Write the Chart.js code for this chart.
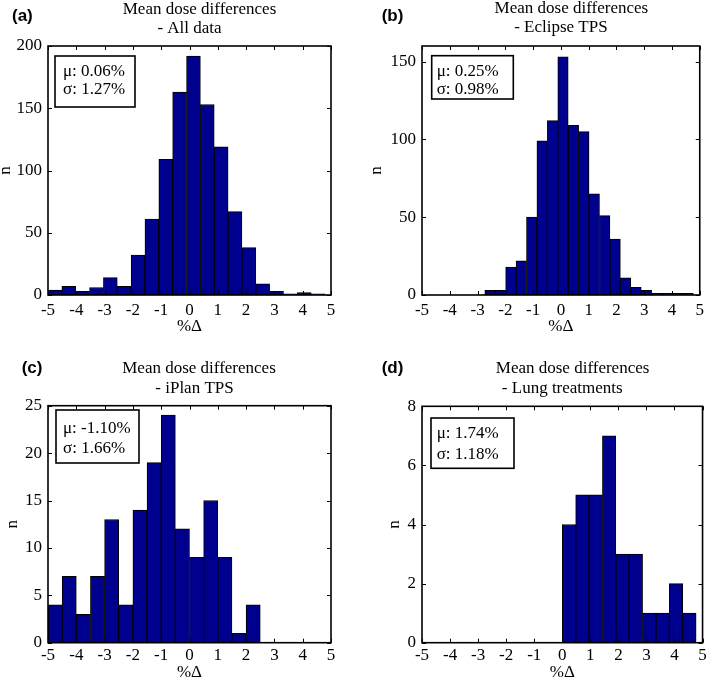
<!DOCTYPE html>
<html>
<head>
<meta charset="utf-8">
<script src="https://cdn.jsdelivr.net/npm/chart.js@4.4.1/dist/chart.umd.min.js"></script>
<style>
  html, body { margin: 0; padding: 0; background: #fff; }
  #fig { position: relative; width: 709px; height: 680px; overflow: hidden; }
  #fig canvas { position: absolute; }
</style>
</head>
<body>
<div id="fig">
  <canvas id="pa" width="355" height="340" style="left:0;top:0"></canvas>
  <canvas id="pb" width="354" height="340" style="left:355px;top:0"></canvas>
  <canvas id="pc" width="355" height="340" style="left:0;top:340px"></canvas>
  <canvas id="pd" width="354" height="340" style="left:355px;top:340px"></canvas>
</div>
<script>
// histogram bins (centres in %Δ) and counts
const allCenters = [-4.755, -4.266, -3.776, -3.287, -2.797, -2.308, -1.818, -1.329, -0.839, -0.350,
                    0.140, 0.629, 1.119, 1.608, 2.098, 2.587, 3.077, 3.566, 4.056, 4.545];
const allCounts = [4, 7, 3, 6, 14, 7, 32, 61, 109, 163, 192, 153, 119, 67, 38, 9, 3, 1, 2, 1];

const eclipseCenters = [-2.552, -2.177, -1.801, -1.426, -1.050, -0.675, -0.299, 0.076, 0.452, 0.827,
                        1.203, 1.578, 1.954, 2.329, 2.705, 3.080, 3.456, 3.831, 4.207, 4.582];
const eclipseCounts = [3, 3, 18, 22, 50, 99, 112, 153, 109, 105, 65, 51, 36, 11, 5, 3, 1, 1, 1, 1];

const iplanCenters = [-4.75, -4.25, -3.75, -3.25, -2.75, -2.25, -1.75, -1.25, -0.75, -0.25,
                      0.25, 0.75, 1.25, 1.75, 2.25];
const iplanCounts = [4, 7, 3, 7, 13, 4, 14, 19, 24, 12, 9, 15, 9, 1, 4];

const lungCenters = [0.239, 0.716, 1.193, 1.670, 2.147, 2.624, 3.101, 3.578, 4.055, 4.532];
const lungCounts = [4, 5, 5, 7, 3, 3, 1, 1, 2, 1];

// axis ticks
const xTicks = [-5, -4, -3, -2, -1, 0, 1, 2, 3, 4, 5];
const yTicksAll = [0, 50, 100, 150, 200];
const yTicksEclipse = [0, 50, 100, 150];
const yTicksIplan = [0, 5, 10, 15, 20, 25];
const yTicksLung = [0, 2, 4, 6, 8];
const yMaxes = [200, 160, 25, 8];

// panel texts
const letters = ['(a)', '(b)', '(c)', '(d)'];
const subtitles = ['- All data', '- Eclipse TPS', '- iPlan TPS', '- Lung treatments'];
const means = ['0.06%', '0.25%', '-1.10%', '1.74%'];
const sigmas = ['1.27%', '0.98%', '1.66%', '1.18%'];

const SERIF = "'Liberation Serif', 'Times New Roman', serif";
const BAR_FILL = '#00008f';

// per-panel placement (canvas pixels)
const panels = [
  { id: 'pa', w: 355, h: 340, area: { l: 48, r: 331, t: 46, b: 295 },
    letter: { x: 12, y: 21 }, titleY: [14, 33.3], titleDx: [10, 0],
    xTickPad: 5, xTitlePad: 4.5, yTitlePad: -3.3,
    box: { x: 7, y: 10, w: 80, h: 51 }, text: { dx: 8, y: [16, 34] } },
  { id: 'pb', w: 354, h: 340, area: { l: 67, r: 350, t: 46, b: 295 },
    letter: { x: 26.7, y: 21 }, titleY: [13.3, 32.3], titleDx: [10.5, 0],
    xTickPad: 5, xTitlePad: 4.5, yTitlePad: 13.2,
    box: { x: 9.7, y: 9.7, w: 81.6, h: 43.3 }, text: { dx: 5, y: [16, 34.3] } },
  { id: 'pc', w: 355, h: 340, area: { l: 48, r: 331, t: 65.7, b: 302.7 },
    letter: { x: 21.7, y: 33.3 }, titleY: [33.3, 53.3], titleDx: [9.5, 5],
    xTickPad: 2.5, xTitlePad: -1, yTitlePad: 4.2,
    box: { x: 8, y: 4.3, w: 83, h: 53 }, text: { dx: 7, y: [18.3, 38.3] } },
  { id: 'pd', w: 354, h: 340, area: { l: 67, r: 350.5, t: 66.3, b: 302.7 },
    letter: { x: 26.7, y: 33.3 }, titleY: [33.3, 53.3], titleDx: [10.3, 0],
    xTickPad: 2.2, xTitlePad: -1, yTitlePad: 31.2,
    box: { x: 9, y: 11.7, w: 83, h: 50.3 }, text: { dx: 5.7, y: [15.6, 36.3] } }
];

// matlab-style box: frame, inward ticks on all sides, titles and stats box
function framePlugin(p, idx) {
  return {
    id: 'frame' + idx,
    afterDraw(chart) {
      const { ctx, chartArea: a, scales: { x, y } } = chart;
      ctx.save();
      ctx.strokeStyle = '#000';
      ctx.lineWidth = 1;
      ctx.beginPath();
      x.ticks.forEach(t => {
        const px = Math.round(x.getPixelForValue(t.value)) + 0.5;
        ctx.moveTo(px, a.bottom); ctx.lineTo(px, a.bottom - 4);
        ctx.moveTo(px, a.top); ctx.lineTo(px, a.top + 4);
      });
      y.ticks.forEach(t => {
        const py = Math.round(y.getPixelForValue(t.value)) + 0.5;
        ctx.moveTo(a.left, py); ctx.lineTo(a.left + 4, py);
        ctx.moveTo(a.right, py); ctx.lineTo(a.right - 4, py);
      });
      ctx.stroke();
      ctx.lineWidth = 1.6;
      ctx.strokeRect(a.left, a.top, a.right - a.left, a.bottom - a.top);

      // panel letter
      ctx.fillStyle = '#000';
      ctx.textBaseline = 'alphabetic';
      ctx.textAlign = 'left';
      ctx.font = "bold 17px 'Liberation Sans', Arial, sans-serif";
      ctx.fillText(letters[idx], p.letter.x, p.letter.y);

      // two-line title
      const cx = (a.left + a.right) / 2;
      ctx.textAlign = 'center';
      ctx.font = '17px ' + SERIF;
      ctx.fillText('Mean dose differences', cx + p.titleDx[0], p.titleY[0]);
      ctx.fillText(subtitles[idx], cx + p.titleDx[1], p.titleY[1]);

      // stats box
      const bx = a.left + p.box.x, by = a.top + p.box.y;
      ctx.fillStyle = '#fff';
      ctx.fillRect(bx, by, p.box.w, p.box.h);
      ctx.lineWidth = 1.6;
      ctx.strokeRect(bx, by, p.box.w, p.box.h);
      ctx.fillStyle = '#000';
      ctx.textAlign = 'left';
      ctx.textBaseline = 'middle';
      ctx.fillText('\u03bc: ' + means[idx], bx + p.text.dx, by + p.text.y[0]);
      ctx.fillText('\u03c3: ' + sigmas[idx], bx + p.text.dx, by + p.text.y[1]);
      ctx.restore();
    }
  };
}

function makeChart(idx, centers, counts, yTicks) {
  const p = panels[idx];
  const tickFont = { family: SERIF, size: 17, lineHeight: 1.2 };
  return new Chart(document.getElementById(p.id), {
    type: 'bar',
    data: {
      datasets: [{
        data: centers.map((c, i) => ({ x: c, y: counts[i] })),
        backgroundColor: BAR_FILL,
        borderColor: '#000',
        borderWidth: 1,
        borderSkipped: false,
        barPercentage: 1,
        categoryPercentage: 1
      }]
    },
    options: {
      responsive: false,
      animation: false,
      devicePixelRatio: 1,
      layout: { padding: { top: p.area.t, right: p.w - p.area.r, bottom: 0, left: 0 } },
      plugins: { legend: { display: false }, tooltip: { enabled: false }, title: { display: false } },
      scales: {
        x: {
          type: 'linear', min: -5, max: 5, offset: false,
          grid: { display: false, drawTicks: false, offset: false },
          border: { display: false },
          afterBuildTicks: s => { s.ticks = xTicks.map(v => ({ value: v })); },
          afterFit: s => { s.height = p.h - p.area.b; },
          ticks: { font: tickFont, color: '#000', padding: p.xTickPad, maxRotation: 0, autoSkip: false },
          title: { display: true, text: '%Δ', color: '#000',
                   font: { family: SERIF, size: 17, lineHeight: 1 },
                   padding: { top: 0, bottom: p.xTitlePad } }
        },
        y: {
          min: 0, max: yMaxes[idx],
          grid: { display: false, drawTicks: false },
          border: { display: false },
          afterBuildTicks: s => { s.ticks = yTicks.map(v => ({ value: v })); },
          afterFit: s => { s.width = p.area.l; },
          ticks: { font: tickFont, color: '#000', padding: 6 },
          title: { display: true, text: 'n', color: '#000',
                   font: { family: SERIF, size: 17, lineHeight: 1 },
                   padding: { top: p.yTitlePad, bottom: 0 } }
        }
      }
    },
    plugins: [framePlugin(p, idx)]
  });
}

makeChart(0, allCenters, allCounts, yTicksAll);
makeChart(1, eclipseCenters, eclipseCounts, yTicksEclipse);
makeChart(2, iplanCenters, iplanCounts, yTicksIplan);
makeChart(3, lungCenters, lungCounts, yTicksLung);
</script>
</body>
</html>
